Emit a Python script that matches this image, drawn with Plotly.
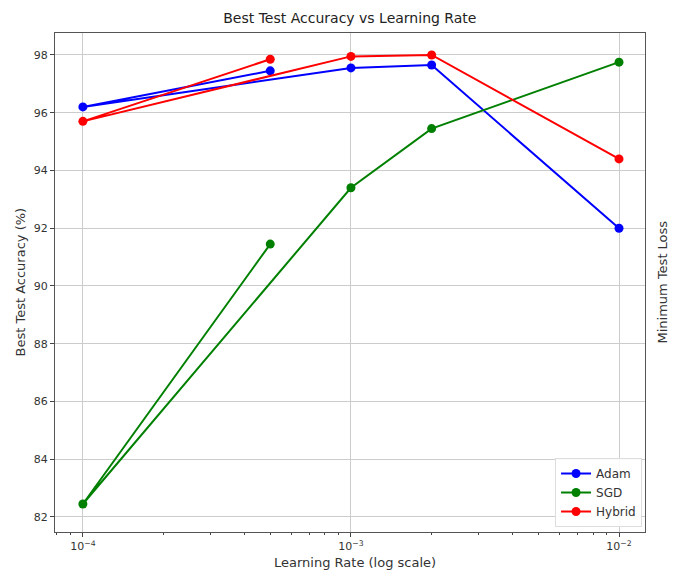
import plotly.graph_objects as go

learning_rates = [0.0005, 0.0001, 0.001, 0.002, 0.01]
adam_acc = [97.45, 96.2, 97.55, 97.65, 92.0]
sgd_acc = [91.45, 82.45, 93.4, 95.45, 97.75]
hybrid_acc = [97.85, 95.7, 97.95, 98.0, 94.4]

series = [("Adam", adam_acc, "#0000ff"), ("SGD", sgd_acc, "#008000"), ("Hybrid", hybrid_acc, "#ff0000")]

x_tickvals = [1e-4, 1e-3, 1e-2]
x_ticktext = ["10<sup>−4</sup>", "10<sup>−3</sup>", "10<sup>−2</sup>"]
x_minor_vals = [m * 10.0 ** e for e in (-5, -4, -3) for m in range(2, 10)]
y_tickvals = [82, 84, 86, 88, 90, 92, 94, 96, 98]

fig = go.Figure()
for name, vals, col in series:
    fig.add_trace(go.Scatter(x=learning_rates, y=vals, mode="lines+markers", name=name,
                             line=dict(color=col, width=2), marker=dict(color=col, size=9)))

font = "DejaVu Sans"
txt = "#333333"
fig.update_layout(
    width=669, height=568,
    margin=dict(l=47, r=32, t=25, b=44, autoexpand=False),
    paper_bgcolor="white", plot_bgcolor="white",
    font=dict(family=font, size=11, color=txt),
    title=dict(text="Best Test Accuracy vs Learning Rate", x=0.511, xanchor="center", y=0.982, yanchor="middle",
               font=dict(size=14, color="#222222")),
    showlegend=True,
    legend=dict(x=0.995, y=0.01, xanchor="right", yanchor="bottom", bgcolor="rgba(255,255,255,0.9)",
                bordercolor="#dddddd", borderwidth=1, font=dict(size=12), tracegroupgap=2),
    xaxis=dict(type="log", range=[-4.104, -1.903], tickvals=x_tickvals, ticktext=x_ticktext,
               automargin=False,
               showgrid=True, gridcolor="#cccccc", gridwidth=1, ticks="outside", ticklen=4,
               showline=True, linecolor="#555555", linewidth=1, mirror=True,
               minor=dict(tickmode="array", tickvals=x_minor_vals, ticks="outside", ticklen=2, showgrid=False),
               tickfont=dict(size=11)),
    yaxis=dict(range=[81.48, 98.76], tickvals=y_tickvals, showgrid=True, gridcolor="#cccccc", gridwidth=1,
               automargin=False, tickfont=dict(size=11),
               ticks="outside", ticklen=4, showline=True, linecolor="#555555", linewidth=1, mirror=True,
               zeroline=False),
)
fig.add_annotation(text="Learning Rate (log scale)", xref="paper", yref="paper", x=0.508, y=0,
                   yanchor="middle", yshift=-30, showarrow=False, font=dict(size=13, color=txt))
fig.add_annotation(text="Best Test Accuracy (%)", xref="paper", yref="paper", x=0, y=0.5,
                   xanchor="center", xshift=-35, textangle=-90, showarrow=False, font=dict(size=13, color=txt))
fig.add_annotation(text="Minimum Test Loss", xref="paper", yref="paper", x=1.0, y=0.5,
                   xanchor="center", xshift=17, textangle=-90, showarrow=False, font=dict(size=13, color=txt))
fig.write_html("out.html")
